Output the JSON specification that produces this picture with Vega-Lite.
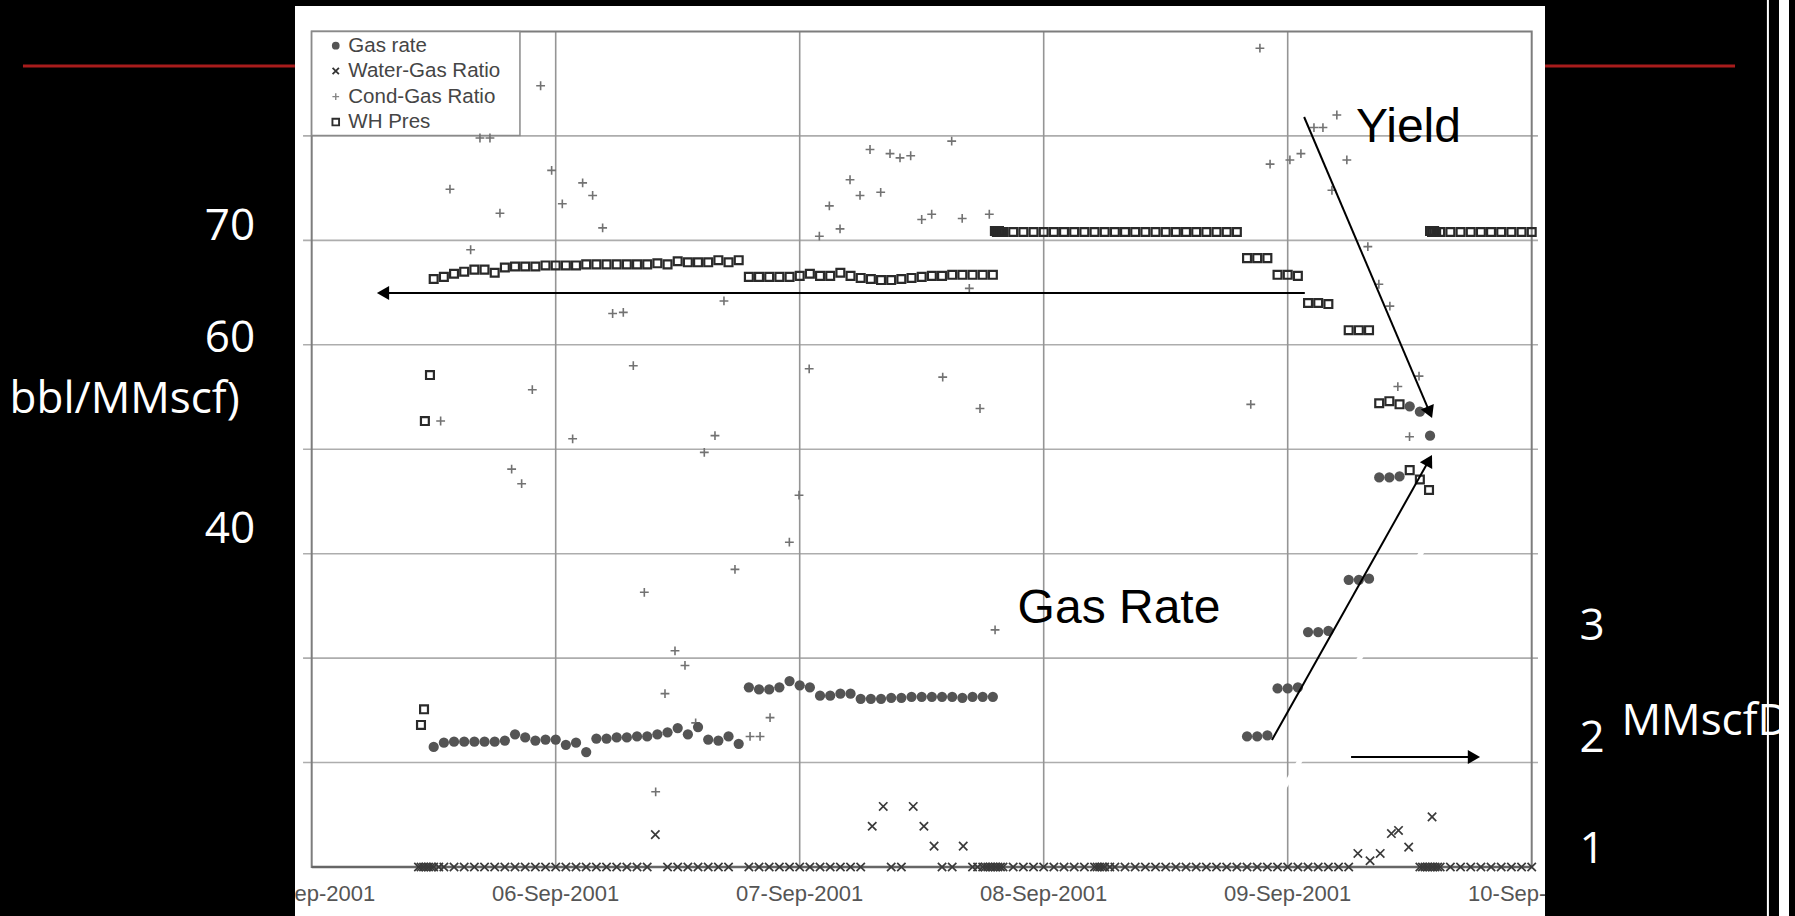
{
"$schema": "https://vega.github.io/schema/vega-lite/v6.json",
"width": 1795,
"height": 916,
"autosize": {"type": "none"},
"padding": 0,
"background": "#000000",
"config": {"view": {"stroke": null}},
"datasets": {
"paper": [{"t":"2001-09-04T22:21","t2":"2001-09-10T01:19","v":5.31,"v2":92.44}],
"hgrid": [
{"t":"2001-09-04T23:09","t2":"2001-09-10T00:37","v":20},
{"t":"2001-09-04T23:09","t2":"2001-09-10T00:37","v":30},
{"t":"2001-09-04T23:09","t2":"2001-09-10T00:37","v":40},
{"t":"2001-09-04T23:09","t2":"2001-09-10T00:37","v":50},
{"t":"2001-09-04T23:09","t2":"2001-09-10T00:37","v":60},
{"t":"2001-09-04T23:09","t2":"2001-09-10T00:37","v":70},
{"t":"2001-09-04T23:09","t2":"2001-09-10T00:37","v":80}],
"vgrid": [
{"t":"2001-09-06T00:00","v":10,"v2":90},
{"t":"2001-09-07T00:00","v":10,"v2":90},
{"t":"2001-09-08T00:00","v":10,"v2":90},
{"t":"2001-09-09T00:00","v":10,"v2":90}],
"frame": [{"t":"2001-09-05T00:00","t2":"2001-09-10T00:00","v":10,"v2":90}],
"legendbox": [{"t":"2001-09-05T00:00","t2":"2001-09-05T20:29","v":80.05,"v2":90}],
"legendtext": [
{"t":"2001-09-05T03:36","v":88.64,"label":"Gas rate"},
{"t":"2001-09-05T03:36","v":86.22,"label":"Water-Gas Ratio"},
{"t":"2001-09-05T03:36","v":83.76,"label":"Cond-Gas Ratio"},
{"t":"2001-09-05T03:36","v":81.33,"label":"WH Pres"}],
"artifact": [{"t":"2001-09-08T23:14","t2":"2001-09-09T16:10","v":16.89,"v2":45.14}],
"whp": [
{"t":"2001-09-05T10:45","v":23.6},{"t":"2001-09-05T11:03","v":25.1},{"t":"2001-09-05T11:08","v":52.7},{"t":"2001-09-05T11:38","v":57.1},
{"t":"2001-09-05T12:00","v":66.3},{"t":"2001-09-05T13:00","v":66.5},{"t":"2001-09-05T14:00","v":66.8},{"t":"2001-09-05T15:00","v":67.0},
{"t":"2001-09-05T16:00","v":67.2},{"t":"2001-09-05T17:00","v":67.2},{"t":"2001-09-05T18:00","v":66.9},{"t":"2001-09-05T19:00","v":67.4},
{"t":"2001-09-05T20:00","v":67.5},{"t":"2001-09-05T21:00","v":67.5},{"t":"2001-09-05T22:00","v":67.5},{"t":"2001-09-05T23:00","v":67.6},
{"t":"2001-09-06T00:00","v":67.6},{"t":"2001-09-06T01:00","v":67.6},{"t":"2001-09-06T02:00","v":67.6},{"t":"2001-09-06T03:00","v":67.7},
{"t":"2001-09-06T04:00","v":67.7},{"t":"2001-09-06T05:00","v":67.7},{"t":"2001-09-06T06:00","v":67.7},{"t":"2001-09-06T07:00","v":67.7},
{"t":"2001-09-06T08:00","v":67.7},{"t":"2001-09-06T09:00","v":67.7},{"t":"2001-09-06T10:00","v":67.8},{"t":"2001-09-06T11:00","v":67.7},
{"t":"2001-09-06T12:00","v":68.0},{"t":"2001-09-06T13:00","v":67.9},{"t":"2001-09-06T14:00","v":67.9},{"t":"2001-09-06T15:00","v":67.9},
{"t":"2001-09-06T16:00","v":68.1},{"t":"2001-09-06T17:00","v":67.9},{"t":"2001-09-06T18:00","v":68.1},
{"t":"2001-09-06T19:00","v":66.5},{"t":"2001-09-06T20:00","v":66.5},{"t":"2001-09-06T21:00","v":66.5},{"t":"2001-09-06T22:00","v":66.5},{"t":"2001-09-06T23:00","v":66.5},
{"t":"2001-09-07T00:00","v":66.6},{"t":"2001-09-07T01:00","v":66.8},{"t":"2001-09-07T02:00","v":66.6},{"t":"2001-09-07T03:00","v":66.6},
{"t":"2001-09-07T04:00","v":66.9},{"t":"2001-09-07T05:00","v":66.6},{"t":"2001-09-07T06:00","v":66.4},{"t":"2001-09-07T07:00","v":66.3},
{"t":"2001-09-07T08:00","v":66.2},{"t":"2001-09-07T09:00","v":66.2},{"t":"2001-09-07T10:00","v":66.3},{"t":"2001-09-07T11:00","v":66.4},
{"t":"2001-09-07T12:00","v":66.5},{"t":"2001-09-07T13:00","v":66.6},{"t":"2001-09-07T14:00","v":66.6},{"t":"2001-09-07T15:00","v":66.7},
{"t":"2001-09-07T16:00","v":66.7},{"t":"2001-09-07T17:00","v":66.7},{"t":"2001-09-07T18:00","v":66.7},{"t":"2001-09-07T19:00","v":66.7},
{"t":"2001-09-07T19:12","v":70.9},{"t":"2001-09-07T19:24","v":70.8},{"t":"2001-09-07T19:36","v":70.9},{"t":"2001-09-07T19:48","v":70.8},
{"t":"2001-09-07T20:00","v":70.8},{"t":"2001-09-07T21:00","v":70.8},{"t":"2001-09-07T22:00","v":70.8},{"t":"2001-09-07T23:00","v":70.8},
{"t":"2001-09-08T00:00","v":70.8},{"t":"2001-09-08T01:00","v":70.8},{"t":"2001-09-08T02:00","v":70.8},{"t":"2001-09-08T03:00","v":70.8},
{"t":"2001-09-08T04:00","v":70.8},{"t":"2001-09-08T05:00","v":70.8},{"t":"2001-09-08T06:00","v":70.8},{"t":"2001-09-08T07:00","v":70.8},
{"t":"2001-09-08T08:00","v":70.8},{"t":"2001-09-08T09:00","v":70.8},{"t":"2001-09-08T10:00","v":70.8},{"t":"2001-09-08T11:00","v":70.8},
{"t":"2001-09-08T12:00","v":70.8},{"t":"2001-09-08T13:00","v":70.8},{"t":"2001-09-08T14:00","v":70.8},{"t":"2001-09-08T15:00","v":70.8},
{"t":"2001-09-08T16:00","v":70.8},{"t":"2001-09-08T17:00","v":70.8},{"t":"2001-09-08T18:00","v":70.8},{"t":"2001-09-08T19:00","v":70.8},
{"t":"2001-09-08T20:00","v":68.3},{"t":"2001-09-08T21:00","v":68.3},{"t":"2001-09-08T22:00","v":68.3},
{"t":"2001-09-08T23:00","v":66.7},{"t":"2001-09-09T00:00","v":66.7},{"t":"2001-09-09T01:00","v":66.6},
{"t":"2001-09-09T02:00","v":64.0},{"t":"2001-09-09T03:00","v":64.0},{"t":"2001-09-09T04:00","v":63.9},
{"t":"2001-09-09T06:00","v":61.4},{"t":"2001-09-09T07:00","v":61.4},{"t":"2001-09-09T08:00","v":61.4},
{"t":"2001-09-09T09:00","v":54.4},{"t":"2001-09-09T10:00","v":54.6},{"t":"2001-09-09T11:00","v":54.3},
{"t":"2001-09-09T12:00","v":48.0},{"t":"2001-09-09T13:00","v":47.1},{"t":"2001-09-09T13:54","v":46.1},
{"t":"2001-09-09T14:00","v":70.9},{"t":"2001-09-09T14:12","v":70.8},{"t":"2001-09-09T14:24","v":70.9},{"t":"2001-09-09T14:36","v":70.8},
{"t":"2001-09-09T15:00","v":70.8},{"t":"2001-09-09T16:00","v":70.8},{"t":"2001-09-09T17:00","v":70.8},{"t":"2001-09-09T18:00","v":70.8},
{"t":"2001-09-09T19:00","v":70.8},{"t":"2001-09-09T20:00","v":70.8},{"t":"2001-09-09T21:00","v":70.8},{"t":"2001-09-09T22:00","v":70.8},
{"t":"2001-09-09T23:00","v":70.8},{"t":"2001-09-10T00:00","v":70.8}],
"cgr": [
{"t":"2001-09-05T12:41","v":52.7},{"t":"2001-09-05T13:36","v":74.9},{"t":"2001-09-05T15:38","v":69.1},{"t":"2001-09-05T16:33","v":79.8},
{"t":"2001-09-05T17:32","v":79.8},{"t":"2001-09-05T18:31","v":72.6},{"t":"2001-09-05T19:40","v":48.1},{"t":"2001-09-05T20:39","v":46.7},
{"t":"2001-09-05T21:42","v":55.7},{"t":"2001-09-05T22:31","v":84.8},{"t":"2001-09-05T23:36","v":76.7},{"t":"2001-09-06T00:39","v":73.5},
{"t":"2001-09-06T01:40","v":51.0},{"t":"2001-09-06T02:39","v":75.5},{"t":"2001-09-06T03:38","v":74.3},{"t":"2001-09-06T04:37","v":71.2},
{"t":"2001-09-06T05:36","v":63.0},{"t":"2001-09-06T06:39","v":63.1},{"t":"2001-09-06T07:38","v":58.0},{"t":"2001-09-06T08:43","v":36.3},
{"t":"2001-09-06T09:50","v":17.2},{"t":"2001-09-06T10:45","v":26.6},{"t":"2001-09-06T11:44","v":30.7},{"t":"2001-09-06T12:43","v":29.3},
{"t":"2001-09-06T13:46","v":23.8},{"t":"2001-09-06T14:37","v":49.7},{"t":"2001-09-06T15:40","v":51.3},{"t":"2001-09-06T16:33","v":64.2},
{"t":"2001-09-06T17:38","v":38.5},{"t":"2001-09-06T19:07","v":22.5},{"t":"2001-09-06T20:06","v":22.5},{"t":"2001-09-06T21:05","v":24.3},
{"t":"2001-09-06T22:59","v":41.1},{"t":"2001-09-06T23:56","v":45.6},{"t":"2001-09-07T00:56","v":57.7},{"t":"2001-09-07T01:56","v":70.4},
{"t":"2001-09-07T02:55","v":73.3},{"t":"2001-09-07T03:58","v":71.1},{"t":"2001-09-07T04:57","v":75.8},{"t":"2001-09-07T05:56","v":74.3},
{"t":"2001-09-07T06:55","v":78.7},{"t":"2001-09-07T07:58","v":74.6},{"t":"2001-09-07T08:53","v":78.3},{"t":"2001-09-07T09:52","v":77.9},
{"t":"2001-09-07T10:55","v":78.1},{"t":"2001-09-07T12:00","v":72.0},{"t":"2001-09-07T12:59","v":72.5},{"t":"2001-09-07T14:04","v":56.9},
{"t":"2001-09-07T14:57","v":79.5},{"t":"2001-09-07T15:59","v":72.1},{"t":"2001-09-07T16:41","v":65.4},{"t":"2001-09-07T17:44","v":53.9},
{"t":"2001-09-07T18:39","v":72.5},{"t":"2001-09-07T19:13","v":32.7},{"t":"2001-09-08T20:22","v":54.3},{"t":"2001-09-08T21:16","v":88.4},
{"t":"2001-09-08T22:16","v":77.3},{"t":"2001-09-09T00:13","v":77.7},{"t":"2001-09-09T01:18","v":78.3},{"t":"2001-09-09T02:35","v":80.8},
{"t":"2001-09-09T03:28","v":80.8},{"t":"2001-09-09T04:50","v":82.0},{"t":"2001-09-09T05:49","v":77.7},{"t":"2001-09-09T04:21","v":74.8},
{"t":"2001-09-09T07:53","v":69.4},{"t":"2001-09-09T08:58","v":65.8},{"t":"2001-09-09T10:03","v":63.7},{"t":"2001-09-09T10:50","v":56.0},
{"t":"2001-09-09T12:55","v":57.0},{"t":"2001-09-09T11:59","v":51.2}],
"wgr": [
{"t":"2001-09-05T10:30","v":10},{"t":"2001-09-05T10:45","v":10},{"t":"2001-09-05T11:00","v":10},{"t":"2001-09-05T11:15","v":10},
{"t":"2001-09-05T11:30","v":10},{"t":"2001-09-05T11:45","v":10},{"t":"2001-09-05T12:00","v":10},{"t":"2001-09-05T12:30","v":10},
{"t":"2001-09-05T13:00","v":10},{"t":"2001-09-05T14:00","v":10},{"t":"2001-09-05T15:00","v":10},{"t":"2001-09-05T16:00","v":10},
{"t":"2001-09-05T17:00","v":10},{"t":"2001-09-05T18:00","v":10},{"t":"2001-09-05T19:00","v":10},{"t":"2001-09-05T20:00","v":10},
{"t":"2001-09-05T21:00","v":10},{"t":"2001-09-05T22:00","v":10},{"t":"2001-09-05T23:00","v":10},
{"t":"2001-09-06T00:00","v":10},{"t":"2001-09-06T01:00","v":10},{"t":"2001-09-06T02:00","v":10},{"t":"2001-09-06T03:00","v":10},
{"t":"2001-09-06T04:00","v":10},{"t":"2001-09-06T05:00","v":10},{"t":"2001-09-06T06:00","v":10},{"t":"2001-09-06T07:00","v":10},
{"t":"2001-09-06T08:00","v":10},{"t":"2001-09-06T09:00","v":10},
{"t":"2001-09-06T09:48","v":13.1},
{"t":"2001-09-06T11:00","v":10},{"t":"2001-09-06T12:00","v":10},{"t":"2001-09-06T13:00","v":10},{"t":"2001-09-06T14:00","v":10},
{"t":"2001-09-06T15:00","v":10},{"t":"2001-09-06T16:00","v":10},{"t":"2001-09-06T17:00","v":10},
{"t":"2001-09-06T19:00","v":10},{"t":"2001-09-06T20:00","v":10},{"t":"2001-09-06T21:00","v":10},{"t":"2001-09-06T22:00","v":10},{"t":"2001-09-06T23:00","v":10},
{"t":"2001-09-07T00:00","v":10},{"t":"2001-09-07T01:00","v":10},{"t":"2001-09-07T02:00","v":10},{"t":"2001-09-07T03:00","v":10},
{"t":"2001-09-07T04:00","v":10},{"t":"2001-09-07T05:00","v":10},{"t":"2001-09-07T06:00","v":10},
{"t":"2001-09-07T07:08","v":13.9},{"t":"2001-09-07T08:13","v":15.8},
{"t":"2001-09-07T09:00","v":10},{"t":"2001-09-07T10:00","v":10},
{"t":"2001-09-07T11:10","v":15.8},{"t":"2001-09-07T12:13","v":13.9},{"t":"2001-09-07T13:13","v":12.0},
{"t":"2001-09-07T14:00","v":10},{"t":"2001-09-07T15:00","v":10},
{"t":"2001-09-07T16:05","v":12.0},
{"t":"2001-09-07T17:00","v":10},{"t":"2001-09-07T17:30","v":10},{"t":"2001-09-07T18:00","v":10},{"t":"2001-09-07T18:15","v":10},
{"t":"2001-09-07T18:30","v":10},{"t":"2001-09-07T18:45","v":10},{"t":"2001-09-07T19:00","v":10},{"t":"2001-09-07T19:15","v":10},
{"t":"2001-09-07T19:30","v":10},{"t":"2001-09-07T19:45","v":10},{"t":"2001-09-07T20:00","v":10},{"t":"2001-09-07T21:00","v":10},
{"t":"2001-09-07T22:00","v":10},{"t":"2001-09-07T23:00","v":10},
{"t":"2001-09-08T00:00","v":10},{"t":"2001-09-08T01:00","v":10},{"t":"2001-09-08T02:00","v":10},{"t":"2001-09-08T03:00","v":10},
{"t":"2001-09-08T04:00","v":10},{"t":"2001-09-08T05:00","v":10},{"t":"2001-09-08T05:15","v":10},{"t":"2001-09-08T05:30","v":10},
{"t":"2001-09-08T05:45","v":10},{"t":"2001-09-08T06:00","v":10},{"t":"2001-09-08T06:30","v":10},{"t":"2001-09-08T07:00","v":10},
{"t":"2001-09-08T08:00","v":10},{"t":"2001-09-08T09:00","v":10},{"t":"2001-09-08T10:00","v":10},{"t":"2001-09-08T11:00","v":10},
{"t":"2001-09-08T12:00","v":10},{"t":"2001-09-08T13:00","v":10},{"t":"2001-09-08T14:00","v":10},{"t":"2001-09-08T15:00","v":10},
{"t":"2001-09-08T16:00","v":10},{"t":"2001-09-08T17:00","v":10},{"t":"2001-09-08T18:00","v":10},{"t":"2001-09-08T19:00","v":10},
{"t":"2001-09-08T20:00","v":10},{"t":"2001-09-08T21:00","v":10},{"t":"2001-09-08T22:00","v":10},{"t":"2001-09-08T23:00","v":10},
{"t":"2001-09-09T00:00","v":10},{"t":"2001-09-09T01:00","v":10},{"t":"2001-09-09T02:00","v":10},{"t":"2001-09-09T03:00","v":10},
{"t":"2001-09-09T04:00","v":10},{"t":"2001-09-09T05:00","v":10},{"t":"2001-09-09T06:00","v":10},
{"t":"2001-09-09T06:54","v":11.3},{"t":"2001-09-09T08:06","v":10.6},{"t":"2001-09-09T09:06","v":11.3},{"t":"2001-09-09T10:12","v":13.2},
{"t":"2001-09-09T10:54","v":13.5},{"t":"2001-09-09T11:54","v":11.9},{"t":"2001-09-09T14:12","v":14.8},
{"t":"2001-09-09T13:00","v":10},{"t":"2001-09-09T13:15","v":10},{"t":"2001-09-09T13:30","v":10},{"t":"2001-09-09T13:45","v":10},
{"t":"2001-09-09T14:00","v":10},{"t":"2001-09-09T14:15","v":10},{"t":"2001-09-09T14:30","v":10},{"t":"2001-09-09T14:45","v":10},
{"t":"2001-09-09T15:00","v":10},{"t":"2001-09-09T16:00","v":10},{"t":"2001-09-09T17:00","v":10},{"t":"2001-09-09T18:00","v":10},
{"t":"2001-09-09T19:00","v":10},{"t":"2001-09-09T20:00","v":10},{"t":"2001-09-09T21:00","v":10},{"t":"2001-09-09T22:00","v":10},
{"t":"2001-09-09T23:00","v":10},{"t":"2001-09-10T00:00","v":10}],
"gas": [
{"t":"2001-09-05T12:00","g":2.15},{"t":"2001-09-05T13:00","g":2.19},{"t":"2001-09-05T14:00","g":2.20},{"t":"2001-09-05T15:00","g":2.20},
{"t":"2001-09-05T16:00","g":2.20},{"t":"2001-09-05T17:00","g":2.20},{"t":"2001-09-05T18:00","g":2.20},{"t":"2001-09-05T19:00","g":2.21},
{"t":"2001-09-05T20:00","g":2.27},{"t":"2001-09-05T21:00","g":2.24},{"t":"2001-09-05T22:00","g":2.21},{"t":"2001-09-05T23:00","g":2.22},
{"t":"2001-09-06T00:00","g":2.22},{"t":"2001-09-06T01:00","g":2.17},{"t":"2001-09-06T02:00","g":2.19},{"t":"2001-09-06T03:00","g":2.10},
{"t":"2001-09-06T04:00","g":2.23},{"t":"2001-09-06T05:00","g":2.23},{"t":"2001-09-06T06:00","g":2.24},{"t":"2001-09-06T07:00","g":2.24},
{"t":"2001-09-06T08:00","g":2.25},{"t":"2001-09-06T09:00","g":2.25},{"t":"2001-09-06T10:00","g":2.27},{"t":"2001-09-06T11:00","g":2.29},
{"t":"2001-09-06T12:00","g":2.33},{"t":"2001-09-06T13:00","g":2.27},{"t":"2001-09-06T14:00","g":2.34},{"t":"2001-09-06T15:00","g":2.22},
{"t":"2001-09-06T16:00","g":2.21},{"t":"2001-09-06T17:00","g":2.25},{"t":"2001-09-06T18:00","g":2.18},
{"t":"2001-09-06T19:00","g":2.72},{"t":"2001-09-06T20:00","g":2.70},{"t":"2001-09-06T21:00","g":2.70},{"t":"2001-09-06T22:00","g":2.72},
{"t":"2001-09-06T23:00","g":2.78},{"t":"2001-09-07T00:00","g":2.74},{"t":"2001-09-07T01:00","g":2.72},{"t":"2001-09-07T02:00","g":2.64},
{"t":"2001-09-07T03:00","g":2.64},{"t":"2001-09-07T04:00","g":2.66},{"t":"2001-09-07T05:00","g":2.66},{"t":"2001-09-07T06:00","g":2.61},
{"t":"2001-09-07T07:00","g":2.61},{"t":"2001-09-07T08:00","g":2.61},{"t":"2001-09-07T09:00","g":2.62},{"t":"2001-09-07T10:00","g":2.62},
{"t":"2001-09-07T11:00","g":2.63},{"t":"2001-09-07T12:00","g":2.63},{"t":"2001-09-07T13:00","g":2.63},{"t":"2001-09-07T14:00","g":2.63},
{"t":"2001-09-07T15:00","g":2.63},{"t":"2001-09-07T16:00","g":2.62},{"t":"2001-09-07T17:00","g":2.63},{"t":"2001-09-07T18:00","g":2.63},
{"t":"2001-09-07T19:00","g":2.63},
{"t":"2001-09-08T20:00","g":2.25},{"t":"2001-09-08T21:00","g":2.25},{"t":"2001-09-08T22:00","g":2.26},
{"t":"2001-09-08T23:00","g":2.71},{"t":"2001-09-09T00:00","g":2.71},{"t":"2001-09-09T01:00","g":2.72},
{"t":"2001-09-09T02:00","g":3.25},{"t":"2001-09-09T03:00","g":3.25},{"t":"2001-09-09T04:00","g":3.26},
{"t":"2001-09-09T06:00","g":3.75},{"t":"2001-09-09T07:00","g":3.75},{"t":"2001-09-09T08:00","g":3.76},
{"t":"2001-09-09T09:00","g":4.73},{"t":"2001-09-09T10:00","g":4.73},{"t":"2001-09-09T11:00","g":4.74},
{"t":"2001-09-09T12:00","g":5.41},{"t":"2001-09-09T13:00","g":5.36},{"t":"2001-09-09T14:00","g":5.13}],
"ticks": [
{"t":"2001-09-05T00:00","v":7.41,"label":"05-Sep-2001"},
{"t":"2001-09-06T00:00","v":7.41,"label":"06-Sep-2001"},
{"t":"2001-09-07T00:00","v":7.41,"label":"07-Sep-2001"},
{"t":"2001-09-08T00:00","v":7.41,"label":"08-Sep-2001"},
{"t":"2001-09-09T00:00","v":7.41,"label":"09-Sep-2001"},
{"t":"2001-09-10T00:00","v":7.41,"label":"10-Sep-2001"}],
"covers": [
{"t":"2001-09-03T17:21","t2":"2001-09-04T22:21","v":5.31,"v2":93.01},
{"t":"2001-09-10T01:19","t2":"2001-09-11T01:53","v":5.31,"v2":93.01},
{"t":"2001-09-03T17:21","t2":"2001-09-11T01:53","v":92.44,"v2":93.01}],
"redline": [
{"t":"2001-09-03T19:36","t2":"2001-09-04T22:21","v":86.7},
{"t":"2001-09-10T01:19","t2":"2001-09-10T20:00","v":86.7}],
"overlayc": [
{"t":"2001-09-04T15:58","v":70.03,"label":"70"},
{"t":"2001-09-04T15:58","v":59.34,"label":"60"},
{"t":"2001-09-04T15:58","v":41.02,"label":"40"},
{"t":"2001-09-10T05:56","v":31.73,"label":"3"},
{"t":"2001-09-10T05:56","v":21.01,"label":"2"},
{"t":"2001-09-10T05:56","v":10.38,"label":"1"}],
"overlayl": [
{"t":"2001-09-03T18:17","v":53.47,"label":"bbl/MMscf)"},
{"t":"2001-09-10T08:50","v":22.64,"label":"MMscfD"}],
"arrows": [
{"t":"2001-09-09T01:41","t2":"2001-09-05T07:01","v":64.96,"v2":64.96},
{"t":"2001-09-09T01:37","t2":"2001-09-09T13:58","v":81.81,"v2":53.53},
{"t":"2001-09-08T22:27","t2":"2001-09-09T13:54","v":22.16,"v2":48.94},
{"t":"2001-09-09T06:14","t2":"2001-09-09T18:19","v":20.53,"v2":20.53}],
"annot": [
{"t":"2001-09-09T06:43","v":79.42,"label":"Yield"},
{"t":"2001-09-07T21:26","v":33.36,"label":"Gas Rate"}]
},
"layer": [
{
"encoding": {
"x": {"field": "t", "type": "temporal", "axis": null, "scale": {"domain": [{"year": 2001, "month": 9, "date": 3, "hours": 17, "minutes": 20, "seconds": 30}, {"year": 2001, "month": 9, "date": 11, "hours": 1, "minutes": 53, "seconds": 53}], "nice": false}},
"y": {"field": "v", "type": "quantitative", "axis": null, "scale": {"domain": [5.308, 93.014], "nice": false, "zero": false}}
},
"layer": [
{"data": {"name": "paper"}, "mark": {"type": "rect", "fill": "#ffffff"}, "encoding": {"x2": {"field": "t2"}, "y2": {"field": "v2"}}},
{"data": {"name": "hgrid"}, "mark": {"type": "rule", "stroke": "#adadad", "strokeWidth": 1.6}, "encoding": {"x2": {"field": "t2"}}},
{"data": {"name": "vgrid"}, "mark": {"type": "rule", "stroke": "#959595", "strokeWidth": 1.6}, "encoding": {"y2": {"field": "v2"}}},
{"data": {"name": "artifact"}, "mark": {"type": "rule", "stroke": "#ffffff", "strokeWidth": 5}, "encoding": {"x2": {"field": "t2"}, "y2": {"field": "v2"}}},
{"data": {"name": "frame"}, "mark": {"type": "rect", "fill": "transparent", "stroke": "#7d7d7d", "strokeWidth": 2}, "encoding": {"x2": {"field": "t2"}, "y2": {"field": "v2"}}},
{"data": {"name": "frame"}, "mark": {"type": "rule", "stroke": "#666666", "strokeWidth": 2.5}, "encoding": {"x2": {"field": "t2"}}},
{"data": {"name": "legendbox"}, "mark": {"type": "rect", "fill": "#ffffff", "stroke": "#8a8a8a", "strokeWidth": 1.5}, "encoding": {"x2": {"field": "t2"}, "y2": {"field": "v2"}}},
{"data": {"values": [{"t": "2001-09-05T02:22", "v": 88.64}]}, "mark": {"type": "circle", "size": 60, "color": "#555555", "opacity": 1}},
{"data": {"values": [{"t": "2001-09-05T02:22", "v": 86.22}]}, "mark": {"type": "point", "shape": "M-1,-1L1,1M-1,1L1,-1", "filled": false, "stroke": "#333333", "strokeWidth": 1.8, "size": 40, "opacity": 1}},
{"data": {"values": [{"t": "2001-09-05T02:22", "v": 83.76}]}, "mark": {"type": "point", "shape": "M-1,0L1,0M0,-1L0,1", "filled": false, "stroke": "#858585", "strokeWidth": 1.4, "size": 45, "opacity": 1}},
{"data": {"values": [{"t": "2001-09-05T02:22", "v": 81.33}]}, "mark": {"type": "point", "shape": "square", "filled": false, "stroke": "#2e2e2e", "strokeWidth": 1.9, "size": 44, "opacity": 1}},
{"data": {"name": "legendtext"}, "mark": {"type": "text", "font": "Liberation Sans", "fontSize": 20.5, "fill": "#454545", "align": "left", "baseline": "middle"}, "encoding": {"text": {"field": "label"}}},
{"data": {"name": "whp"}, "mark": {"type": "point", "shape": "square", "filled": false, "stroke": "#2a2a2a", "strokeWidth": 2.2, "size": 62, "opacity": 1}},
{"data": {"name": "cgr"}, "mark": {"type": "point", "shape": "M-1,0L1,0M0,-1L0,1", "filled": false, "stroke": "#727272", "strokeWidth": 1.6, "size": 78, "opacity": 1}},
{"data": {"name": "wgr"}, "mark": {"type": "point", "shape": "M-1,-1L1,1M-1,1L1,-1", "filled": false, "stroke": "#3a3a3a", "strokeWidth": 1.7, "size": 70, "opacity": 1}},
{"data": {"name": "ticks"}, "mark": {"type": "text", "font": "Liberation Sans", "fontSize": 22, "fill": "#555555", "align": "center", "baseline": "middle"}, "encoding": {"text": {"field": "label"}}}
]
},
{
"data": {"name": "gas"},
"mark": {"type": "circle", "size": 105, "color": "#545454", "opacity": 1},
"encoding": {
"x": {"field": "t", "type": "temporal", "axis": null, "scale": {"domain": [{"year": 2001, "month": 9, "date": 3, "hours": 17, "minutes": 20, "seconds": 30}, {"year": 2001, "month": 9, "date": 11, "hours": 1, "minutes": 53, "seconds": 53}], "nice": false}},
"y": {"field": "g", "type": "quantitative", "axis": null, "scale": {"domain": [0.5308, 9.3014], "nice": false, "zero": false}}
}
},
{
"encoding": {
"x": {"field": "t", "type": "temporal", "axis": null, "scale": {"domain": [{"year": 2001, "month": 9, "date": 3, "hours": 17, "minutes": 20, "seconds": 30}, {"year": 2001, "month": 9, "date": 11, "hours": 1, "minutes": 53, "seconds": 53}], "nice": false}},
"y": {"field": "v", "type": "quantitative", "axis": null, "scale": {"domain": [5.308, 93.014], "nice": false, "zero": false}}
},
"layer": [
{"data": {"name": "covers"}, "mark": {"type": "rect", "fill": "#000000"}, "encoding": {"x2": {"field": "t2"}, "y2": {"field": "v2"}}},
{"data": {"name": "redline"}, "mark": {"type": "rule", "stroke": "#a81c1c", "strokeWidth": 3}, "encoding": {"x2": {"field": "t2"}}},
{"data": {"name": "overlayc"}, "mark": {"type": "text", "font": "Open Sans", "fontSize": 44, "fill": "#ffffff", "align": "center", "baseline": "alphabetic"}, "encoding": {"text": {"field": "label"}}},
{"data": {"name": "overlayl"}, "mark": {"type": "text", "font": "Open Sans", "fontSize": 44, "fill": "#ffffff", "align": "left", "baseline": "alphabetic"}, "encoding": {"text": {"field": "label"}}},
{"data": {"values": [{"t": "2001-09-10T23:14", "v": 5.31, "v2": 93.01}]}, "mark": {"type": "rule", "stroke": "#ffffff", "strokeWidth": 2}, "encoding": {"y2": {"field": "v2"}}},
{"data": {"values": [{"t": "2001-09-11T00:49", "v": 5.31, "v2": 93.01}]}, "mark": {"type": "rule", "stroke": "#ffffff", "strokeWidth": 10}, "encoding": {"y2": {"field": "v2"}}},
{"data": {"name": "arrows"}, "mark": {"type": "rule", "stroke": "#000000", "strokeWidth": 2}, "encoding": {"x2": {"field": "t2"}, "y2": {"field": "v2"}}},
{"data": {"values": [{"t": "2001-09-05T07:01", "v": 64.96}]}, "mark": {"type": "point", "shape": "triangle-left", "filled": true, "color": "#000000", "size": 200, "opacity": 1}},
{"data": {"values": [{"t": "2001-09-09T13:58", "v": 53.53}]}, "mark": {"type": "point", "shape": "triangle-up", "angle": 157, "filled": true, "color": "#000000", "size": 200, "opacity": 1}},
{"data": {"values": [{"t": "2001-09-09T13:54", "v": 48.94}]}, "mark": {"type": "point", "shape": "triangle-up", "angle": 29, "filled": true, "color": "#000000", "size": 200, "opacity": 1}},
{"data": {"values": [{"t": "2001-09-09T18:19", "v": 20.53}]}, "mark": {"type": "point", "shape": "triangle-right", "filled": true, "color": "#000000", "size": 200, "opacity": 1}},
{"data": {"name": "annot"}, "mark": {"type": "text", "font": "Liberation Sans", "fontSize": 48, "fill": "#000000", "align": "left", "baseline": "alphabetic"}, "encoding": {"text": {"field": "label"}}}
]
}
],
"resolve": {"scale": {"y": "independent"}}
}
